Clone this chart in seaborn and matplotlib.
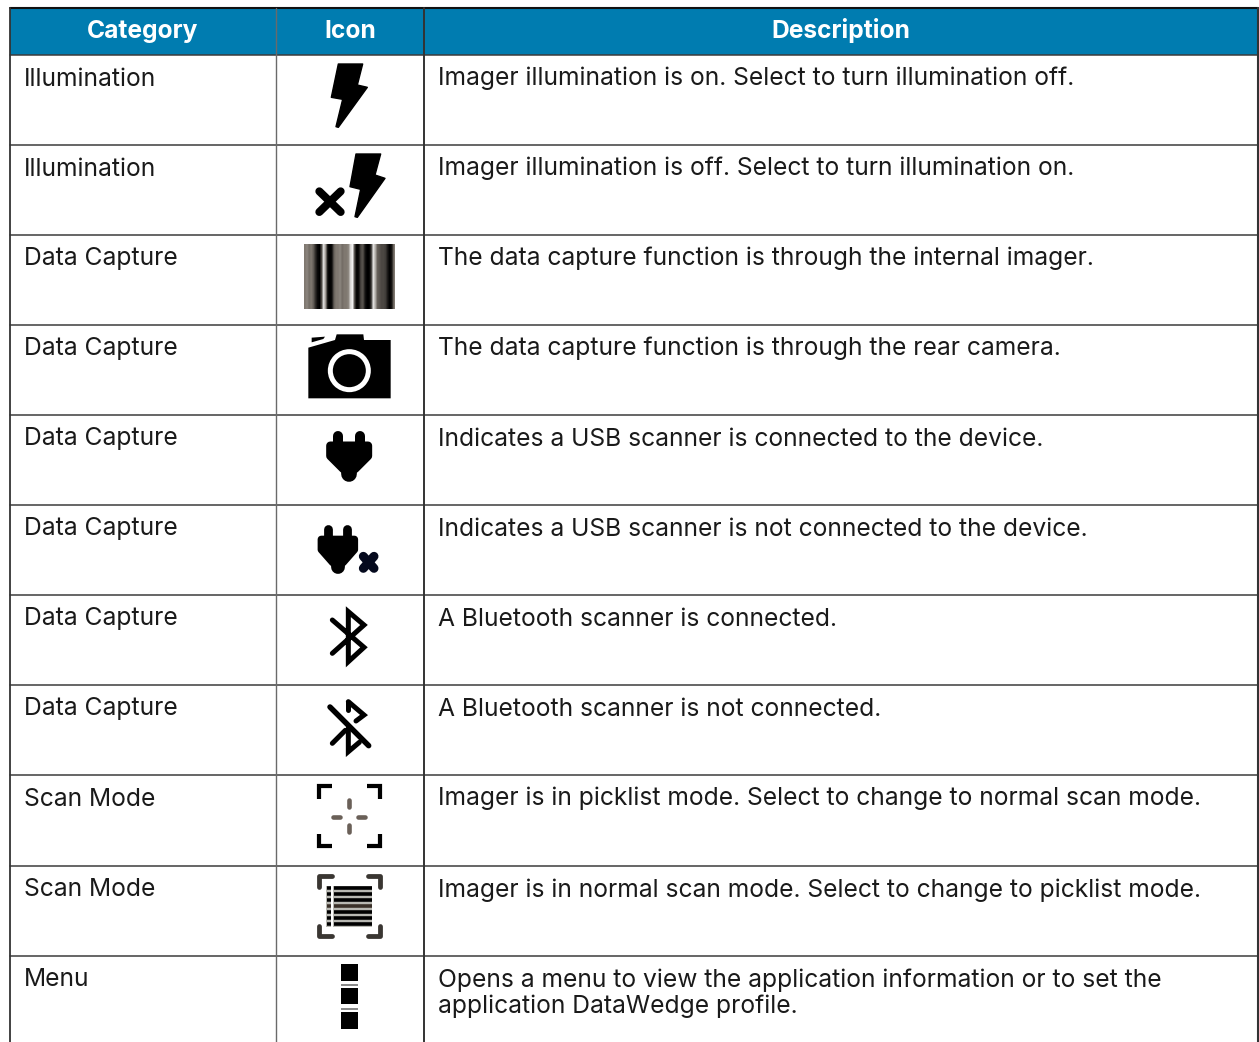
import numpy as np
import matplotlib
matplotlib.use("Agg")
import matplotlib.pyplot as plt
import seaborn as sns
from matplotlib.colors import LinearSegmentedColormap
from matplotlib.patches import Polygon, Rectangle, Circle

HEADERS = ["Category", "Icon", "Description"]
CATEGORIES = ["Illumination", "Illumination", "Data Capture", "Data Capture", "Data Capture",
              "Data Capture", "Data Capture", "Data Capture", "Scan Mode", "Scan Mode", "Menu"]
DESCRIPTIONS = [
    "Imager illumination is on. Select to turn illumination off.",
    "Imager illumination is off. Select to turn illumination on.",
    "The data capture function is through the internal imager.",
    "The data capture function is through the rear camera.",
    "Indicates a USB scanner is connected to the device.",
    "Indicates a USB scanner is not connected to the device.",
    "A Bluetooth scanner is connected.",
    "A Bluetooth scanner is not connected.",
    "Imager is in picklist mode. Select to change to normal scan mode.",
    "Imager is in normal scan mode. Select to change to picklist mode.",
    "Opens a menu to view the application information or to set the\napplication DataWedge profile.",
]
ROW_EDGES = [55, 145, 235, 325, 415, 505, 595, 685, 775, 866, 956]
COL_EDGES = [10, 276, 424, 1258]
BARCODE = [.5, .55, .45, .5, .4, .2, .05, 0, .3, .9, .6, .05, 0, .05, .4, .5, .5, .55, .45, .5, .5, .55,
           .85, .95, .3, 0, .05, .3, .35, .1, 0, 0, .2, .9, .7, .4, .35, .3, .3, .25, .1, 0, .1, .5]

sns.set_theme(style="white")
plt.rcParams["font.family"] = ["Inter", "DejaVu Sans"]

fig = plt.figure(figsize=(12.59, 10.42), dpi=100, facecolor="white")
ax = fig.add_axes([0, 0, 1, 1])
ax.axis("off")

BLUE = "#007CB0"
LINE = "#3c3c3c"
TEXT = "#1a1a1a"
FS = 17.72
HFS = 17.7
BAR_CMAP = LinearSegmentedColormap.from_list("bars", ["#000000", "#7f7870", "#ffffff"])


def z(points, oy, ox=270):
    a = np.asarray(points, float)
    return np.c_[ox + a[:, 0] / 3, oy + a[:, 1] / 3]


def poly(points, oy, color="black", lw=0.5):
    ax.add_patch(Polygon(z(points, oy), closed=True, fc=color, ec=color, lw=lw, joinstyle="round", zorder=4))


def stroke(points, oy, width=5, color="black", cap="round", join="miter"):
    p = z(points, oy)
    ax.plot(p[:, 0], p[:, 1], color=color, lw=width * 0.72, solid_capstyle=cap, solid_joinstyle=join, zorder=4)


# header band and table rules
ax.add_patch(Rectangle((COL_EDGES[0], 8), COL_EDGES[-1] - COL_EDGES[0], ROW_EDGES[0] - 8, fc=BLUE, ec="none", zorder=1))
ax.plot([COL_EDGES[0], COL_EDGES[-1]], [8, 8], color="#111111", lw=1.5, zorder=2)
for y in ROW_EDGES:
    ax.plot([COL_EDGES[0], COL_EDGES[-1]], [y, y], color=LINE, lw=1.1, zorder=2)
for x, c, w in zip(COL_EDGES, ["#333333", "#6a6a6a", "#333333", "#333333"], [1.3, 1.0, 1.4, 1.5]):
    ax.plot([x, x], [8, 1042], color=c, lw=w, zorder=2)

# text
for h, a, b in zip(HEADERS, COL_EDGES[:-1], COL_EDGES[1:]):
    ax.text((a + b) / 2, 38, h, color="white", fontsize=HFS, fontweight="bold", ha="center", va="baseline", zorder=5)
for top, cat, desc in zip(ROW_EDGES, CATEGORIES, DESCRIPTIONS):
    ax.text(24, top + 30.5, cat, color=TEXT, fontsize=FS, ha="left", va="baseline", zorder=5)
    for i, line in enumerate(desc.split("\n")):
        ax.text(438, top + 30.5 + 26 * i, line, color=TEXT, fontsize=FS, ha="left", va="baseline", zorder=5)

# 1 bolt on
poly([(205, 192), (278, 192), (262, 255), (292, 262), (205, 382), (198, 380), (218, 298), (184, 292)], 0, lw=1)
# 2 bolt off
poly([(258, 462), (332, 462), (315, 525), (345, 535), (262, 652), (255, 650), (272, 568), (240, 560)], 0, lw=1)
stroke([(148, 574), (212, 636)], 0, 8)
stroke([(212, 574), (148, 636)], 0, 8)
# 3 barcode
ax.imshow(np.array(BARCODE)[None, :], cmap=BAR_CMAP, vmin=0, vmax=1, aspect="auto",
          interpolation="bilinear", extent=(304, 395, 308.7, 244), zorder=3)
# 4 camera
oy = 325
poly([(115, 220), (115, 68), (195, 45), (200, 28), (280, 28), (282, 45), (362, 45), (362, 220)], oy, lw=0)
poly([(125, 38), (165, 35), (160, 42), (125, 52)], oy, lw=0)
cx, cy = z([(238, 137)], oy)[0]
ax.add_patch(Circle((cx, cy), 21.5, fc="white", ec="none", zorder=5))
ax.add_patch(Circle((cx, cy), 16.5, fc="black", ec="none", zorder=6))


def plug(ox, oy, sx=1.0, sy=1.0):
    def t(pts):
        return [(ox + sx * a, oy + sy * b) for a, b in pts]
    stroke(t([(0, 14), (0, 45)]), 325, 10 * sx)
    stroke(t([(65, 14), (65, 45)]), 325, 10 * sx)
    poly(t([(-24, 44), (89, 44), (89, 75), (50, 114), (15, 114), (-24, 75)]), 325, lw=6 * sx)
    stroke(t([(32.5, 105), (32.5, 128)]), 325, 15.7 * sx)


# 5 plug, 6 plug + x
plug(205, 318)
plug(175, 599, 0.88, 1.0)
stroke([(280, 694), (312, 730)], 325, 9, color="#050a1e")
stroke([(312, 694), (280, 730)], 325, 9, color="#050a1e")
# 7 bluetooth
stroke([(187, 885), (282, 967), (235, 1010), (235, 860), (282, 900), (187, 985)], 325, 5, join="miter", cap="round")
# 8 bluetooth off
oy = 685
stroke([(180, 66), (296, 182)], oy, 5.5)
stroke([(235, 50), (282, 90), (258, 108)], oy, 5)
stroke([(235, 50), (235, 75)], oy, 5)
stroke([(187, 175), (226, 136)], oy, 5)
stroke([(235, 130), (235, 200), (268, 172)], oy, 5)
# 9 picklist
for xs, ys in [((185, 148, 148), (303, 303, 342)), ((290, 329, 329), (303, 303, 342)),
               ((185, 148, 148), (484, 484, 447)), ((290, 329, 329), (484, 484, 447))]:
    stroke(list(zip(xs, ys)), oy, 4.2, cap="butt")
for seg in [[(238, 346), (238, 366)], [(238, 421), (238, 441)], [(190, 395), (210, 395)], [(264, 395), (286, 395)]]:
    stroke(seg, oy, 4.6, color="#6a6058")
# 10 normal scan
for xs, ys in [((185, 148, 148), (574, 574, 605)), ((293, 329, 329), (574, 574, 605)),
               ((185, 148, 148), (754, 754, 722)), ((293, 329, 329), (754, 754, 722))]:
    stroke(list(zip(xs, ys)), oy, 4.8, color="#3a3632", cap="round", join="round")
ax.add_patch(Rectangle((270 + 168 / 3, oy + 602 / 3), 139 / 3, 124 / 3, fc="#b8b8b2", ec="none", zorder=3))
ax.add_patch(Rectangle((270 + 184 / 3, oy + 602 / 3), 6 / 3, 124 / 3, fc="white", ec="none", zorder=3))
for yy in [608, 626, 644, 664, 682, 700, 718]:
    c = "black" if yy != 664 else "#3a3028"
    stroke([(192, yy), (305, yy)], oy, 3.6, color=c, cap="butt")
    stroke([(170, yy), (183, yy)], oy, 3.5, color=c, cap="butt")
# 11 menu
for y0, y1 in [(837, 888), (910, 958), (982, 1032)]:
    poly([(213, y0), (264, y0), (264, y1), (213, y1)], oy, lw=0)
for y0, y1 in [(897, 903), (968, 975)]:
    poly([(213, y0), (264, y0), (264, y1), (213, y1)], oy, color="#8a8a8a", lw=0)

ax.set_xlim(0, 1259)
ax.set_ylim(1042, 0)
fig.savefig("out.png", dpi=100, facecolor="white")
